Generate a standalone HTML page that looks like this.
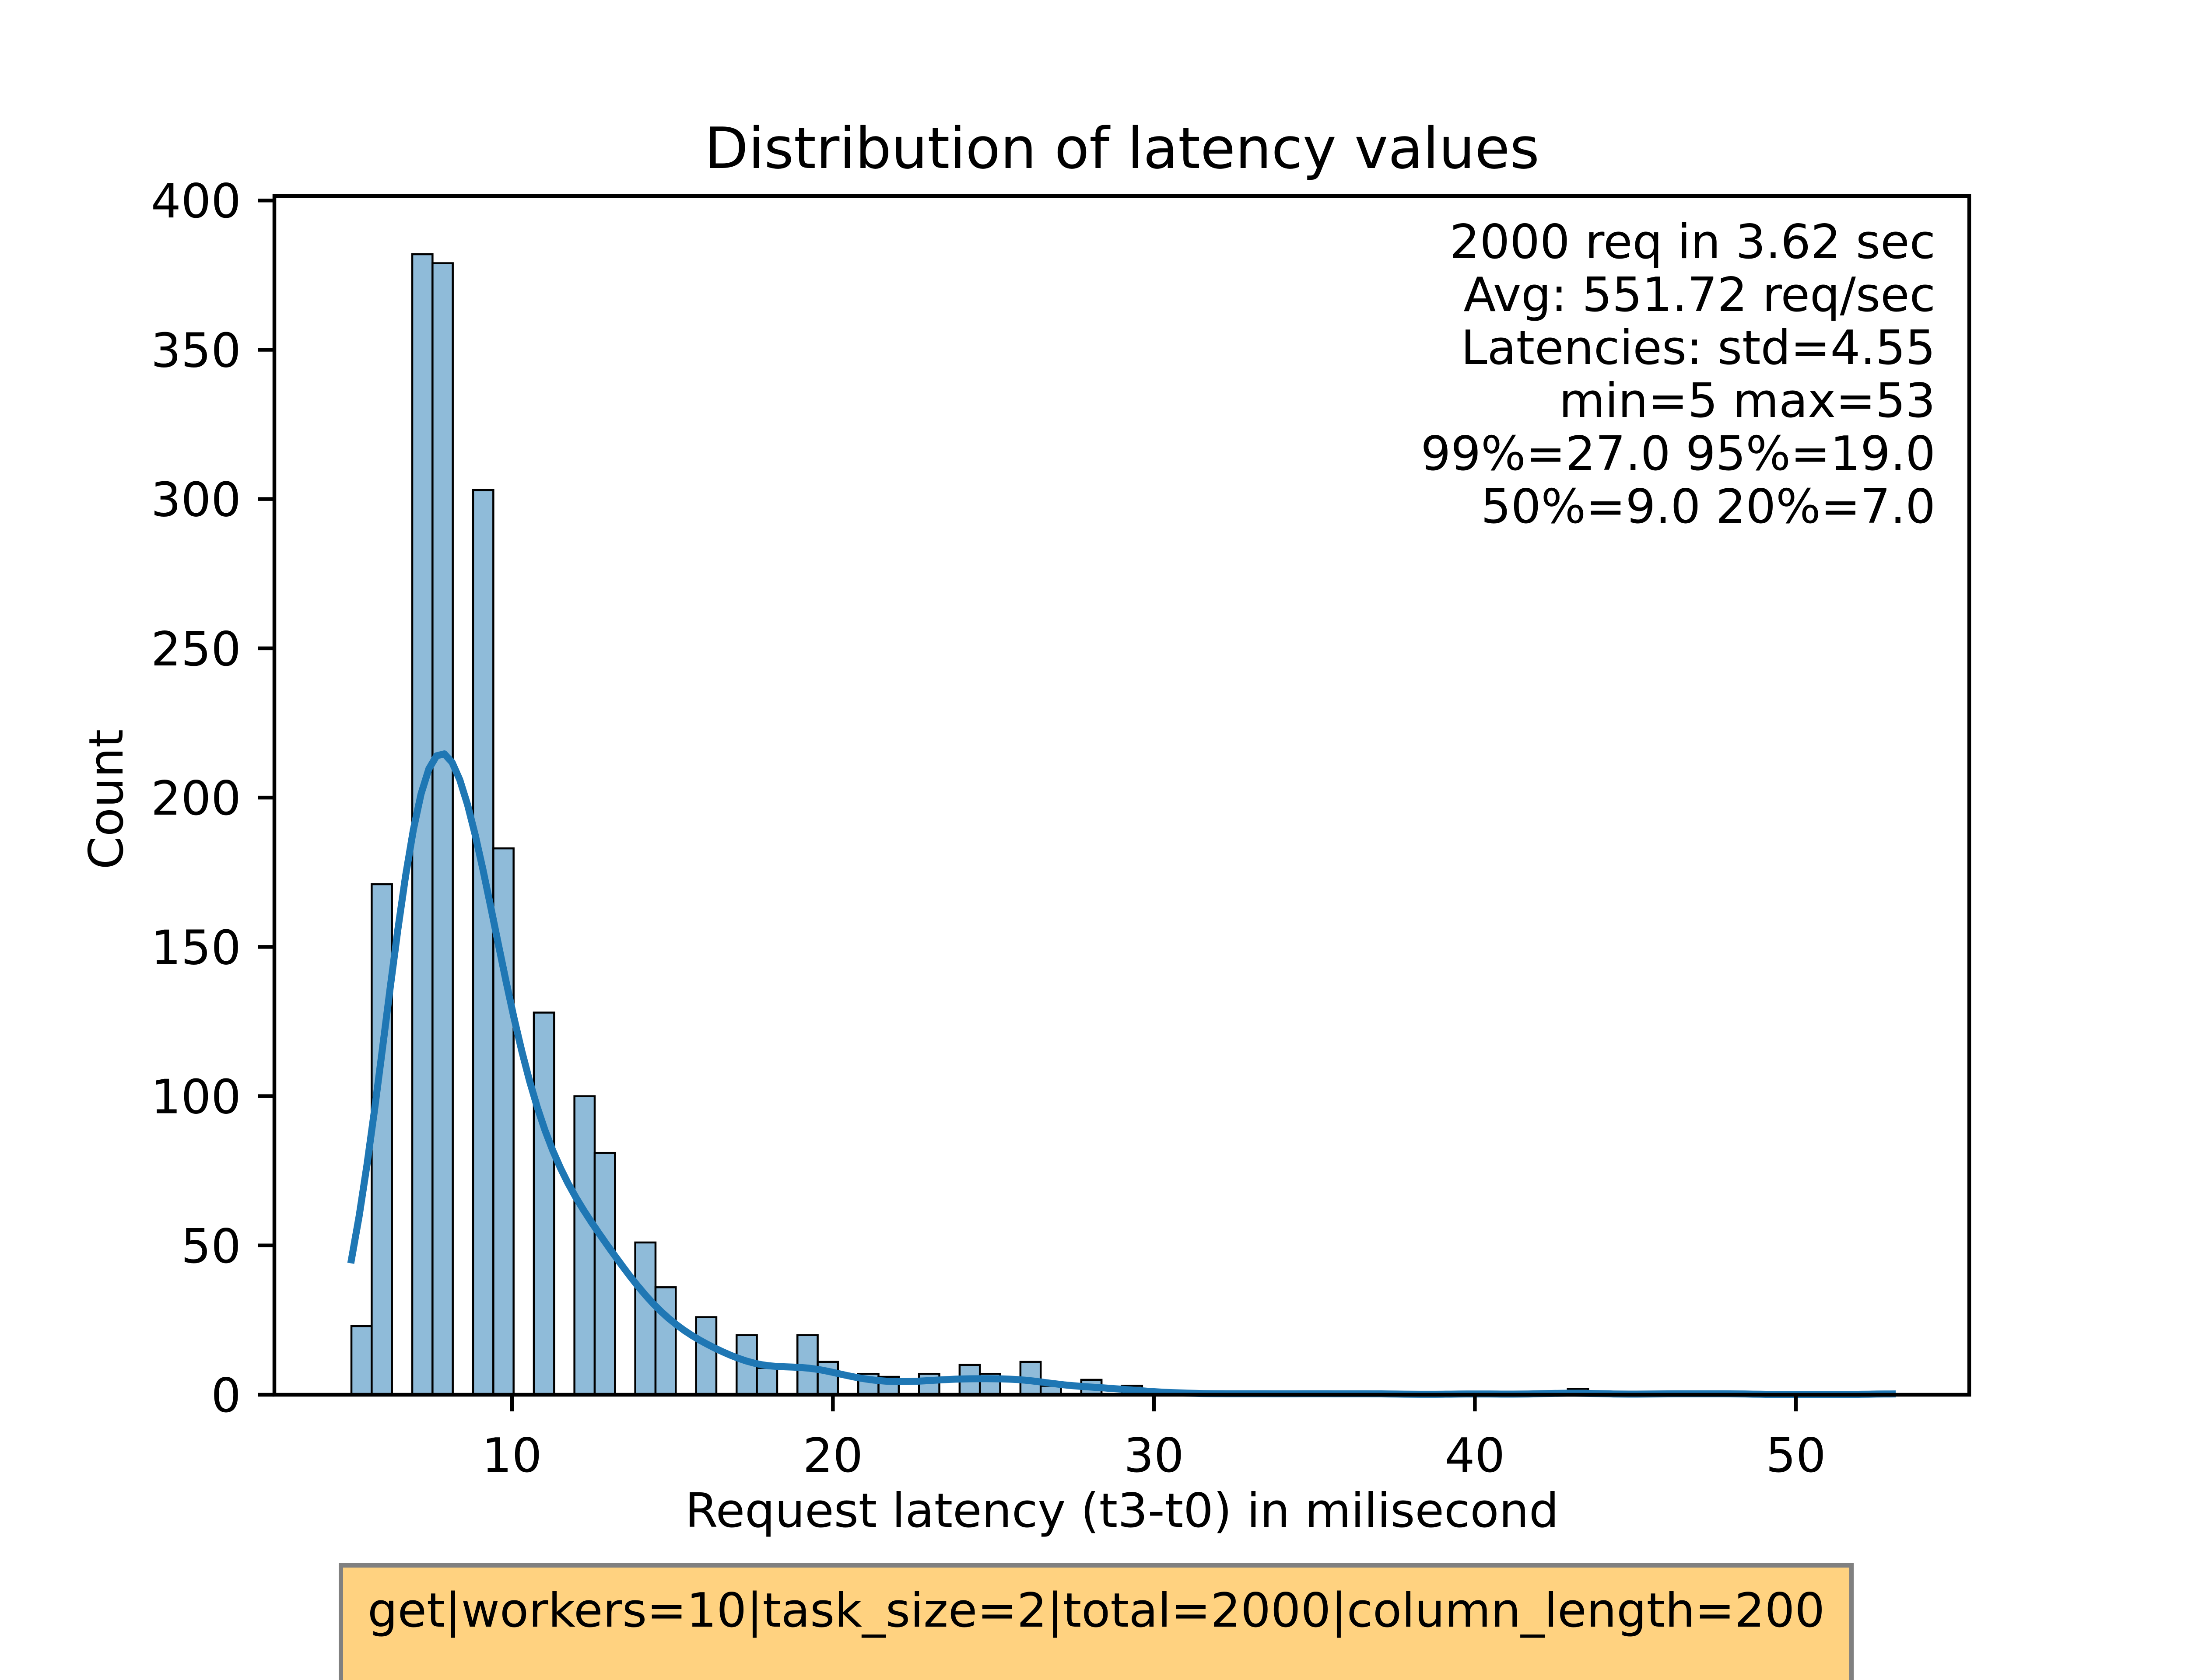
<!DOCTYPE html>
<html><head><meta charset="utf-8"><style>
html,body{margin:0;padding:0;background:#fff;}
svg{display:block;}
text{font-family:"DejaVu Sans","Liberation Sans",sans-serif;fill:#000;}
</style></head><body>
<svg id="chart" width="5120" height="3840" viewBox="0 0 5120 3840" xmlns="http://www.w3.org/2000/svg">
<rect x="0" y="0" width="5120" height="3840" fill="#fff"/>
<text x="2564" y="384" font-size="130" text-anchor="middle">Distribution of latency values</text>
<g id="plot"></g>
<text x="2564" y="3490" font-size="108" text-anchor="middle">Request latency (t3-t0) in milisecond</text>
<text transform="translate(280,1827) rotate(-90)" font-size="108" text-anchor="middle">Count</text>
<g font-size="108" text-anchor="end">
<text x="4423" y="590">2000 req in 3.62 sec</text>
<text x="4423" y="711">Avg: 551.72 req/sec</text>
<text x="4423" y="832">Latencies: std=4.55</text>
<text x="4423" y="953">min=5 max=53</text>
<text x="4423" y="1074">99%=27.0 95%=19.0</text>
<text x="4423" y="1195">50%=9.0 20%=7.0</text>
</g>
<g>
<rect x="779" y="3578" width="3452" height="320" fill="#ffd280" stroke="#808080" stroke-width="10"/>
<text x="2505" y="3718" font-size="108" text-anchor="middle">get|workers=10|task_size=2|total=2000|column_length=200</text>
</g>
</svg>
<script>
const latencyValues = [5,6,7,8,9,10,11,12,13,14,15,16,17,18,19,20,21,22,23,24,25,26,27,28,29,30,31,33,35,37,40,43,46,48,53];
const latencyCounts = [23,171,382,379,303,183,128,100,81,51,36,26,20,9,20,11,7,6,7,10,7,11,3,5,3,1,1,1,1,1,1,2,1,1,1];
const xTickLabels = [10,20,30,40,50];
const yTickLabels = [0,50,100,150,200,250,300,350,400];

const NS='http://www.w3.org/2000/svg';
const L=627,R=4500,T=448,B=3188;
const xMin=2.6,xMax=55.4,yMax=401.5;
const binCount=76;
function xs(v){return L+(v-xMin)/(xMax-xMin)*(R-L);}
function ys(v){return B-v/yMax*(B-T);}
const plot=document.getElementById('plot');
function mk(tag,attrs){const e=document.createElementNS(NS,tag);for(const k in attrs)e.setAttribute(k,attrs[k]);plot.appendChild(e);return e;}

const dMin=Math.min(...latencyValues),dMax=Math.max(...latencyValues);
const bw=(dMax-dMin)/binCount;
const bins=new Array(binCount).fill(0);
latencyValues.forEach((v,i)=>{let k=Math.floor((v-dMin)/bw+1e-9);if(k>=binCount)k=binCount-1;bins[k]+=latencyCounts[i];});
bins.forEach((c,k)=>{
  if(c<=0)return;
  const x0=xs(dMin+k*bw),x1=xs(dMin+(k+1)*bw);
  const r=mk('rect',{x:x0,y:ys(c),width:x1-x0,height:B-ys(c),fill:'#8fbbd9',stroke:'#000','stroke-width':4.5});
  
  
});

let N=0,mean=0;latencyValues.forEach((v,i)=>{N+=latencyCounts[i];mean+=v*latencyCounts[i];});mean/=N;
let vr=0;latencyValues.forEach((v,i)=>{vr+=latencyCounts[i]*(v-mean)*(v-mean);});vr/=(N-1);
const h=Math.sqrt(vr)*Math.pow(N,-0.2);
let pts=[];
for(let g=0;g<200;g++){
  const x=dMin+(dMax-dMin)*g/199;
  let d=0;latencyValues.forEach((v,i)=>{const z=(x-v)/h;d+=latencyCounts[i]*Math.exp(-0.5*z*z);});
  d=d/(N*h*Math.sqrt(2*Math.PI));
  pts.push(xs(x).toFixed(1)+','+ys(d*N*bw).toFixed(1));
}
const kde=mk('polyline',{points:pts.join(' '),fill:'none',stroke:'#1f77b4','stroke-width':16,'stroke-linejoin':'round','stroke-linecap':'square'});



xTickLabels.forEach(v=>{
  const x=xs(v);
  const t=mk('line',{x1:x,x2:x,y1:B,y2:B+38,stroke:'#000','stroke-width':8.5});
  
  
  const l=mk('text',{x:x,y:B+38+38+100,'font-size':108,'text-anchor':'middle'});
  l.textContent=v;
  
  
});
yTickLabels.forEach(v=>{
  const y=ys(v);
  const t=mk('line',{x1:L-38,x2:L,y1:y,y2:y,stroke:'#000','stroke-width':8.5});
  
  
  const l=mk('text',{x:L-76,y:y+39,'font-size':108,'text-anchor':'end'});
  l.textContent=v;
  
  
});
const frame=mk('rect',{x:L,y:T,width:R-L,height:B-T,fill:'none',stroke:'#000','stroke-width':8.5});


</script>
</body></html>
